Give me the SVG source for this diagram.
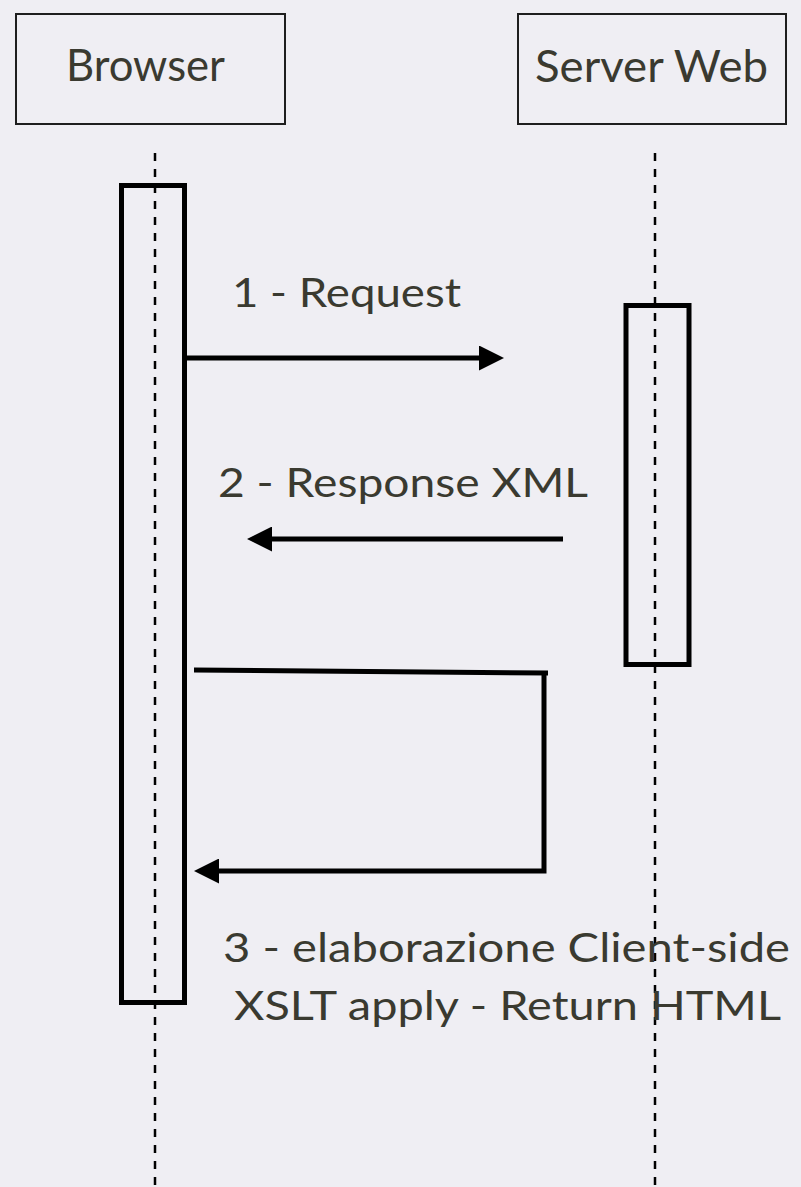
<svg xmlns="http://www.w3.org/2000/svg" width="801" height="1187" viewBox="0 0 801 1187">
  <style>
    .bg { fill: #efeef3; }
    .head { fill: none; stroke: #1e1e1e; stroke-width: 2; }
    .act { fill: none; stroke: #000; stroke-width: 5; }
    .life { fill: none; stroke: #000; stroke-width: 2.5; stroke-dasharray: 8 8; }
    .msg { fill: none; stroke: #000; stroke-width: 5; }
    .lbl { font-family: Lato, "Open Sans", "Liberation Sans", sans-serif; fill: #3a3a30; }
  </style>
  <defs>
    <marker id="ah" markerUnits="userSpaceOnUse" viewBox="0 0 25 25" markerWidth="25" markerHeight="25" refX="0" refY="12.5" orient="auto">
      <path d="M0,0 L25,12.5 L0,25 z" fill="#000"/>
    </marker>
  </defs>
  <rect class="bg" x="0" y="0" width="801" height="1187"/>

  <g id="lifelines">
    <line class="life" x1="155" y1="153" x2="155" y2="1187"/>
    <line class="life" x1="655" y1="153" x2="655" y2="1187"/>
  </g>

  <g id="browser">
    <rect class="head" x="16" y="14" width="269" height="110"/>
    <text class="lbl" x="66" y="81" font-size="45" textLength="159" lengthAdjust="spacingAndGlyphs">Browser</text>
  </g>
  <g id="server">
    <rect class="head" x="518" y="14" width="268" height="110"/>
    <text class="lbl" x="535" y="82" font-size="45" textLength="233" lengthAdjust="spacingAndGlyphs">Server Web</text>
  </g>

  <g id="browser-activation">
    <rect class="act" x="121.5" y="185.5" width="63" height="817"/>
  </g>
  <g id="server-activation">
    <rect class="act" x="626" y="305.5" width="63" height="359"/>
  </g>

  <g id="connectors">
    <path class="msg" d="M186,358 L479,358" marker-end="url(#ah)"/>
    <path class="msg" d="M563,539 L272,539" marker-end="url(#ah)"/>
    <path class="msg" d="M194,670 L548,673" />
    <path class="msg" d="M544,671 L544,871 L219,871" marker-end="url(#ah)"/>
  </g>

  <g id="labels">
    <text class="lbl" x="232" y="307" font-size="41" textLength="229" lengthAdjust="spacingAndGlyphs">1 - Request</text>
    <text class="lbl" x="218" y="497" font-size="41" textLength="370" lengthAdjust="spacingAndGlyphs">2 - Response XML</text>
    <text class="lbl" x="223" y="962" font-size="41" textLength="567" lengthAdjust="spacingAndGlyphs">3 - elaborazione Client-side</text>
    <text class="lbl" x="234" y="1020" font-size="41" textLength="547" lengthAdjust="spacingAndGlyphs">XSLT apply - Return HTML</text>
  </g>
</svg>
